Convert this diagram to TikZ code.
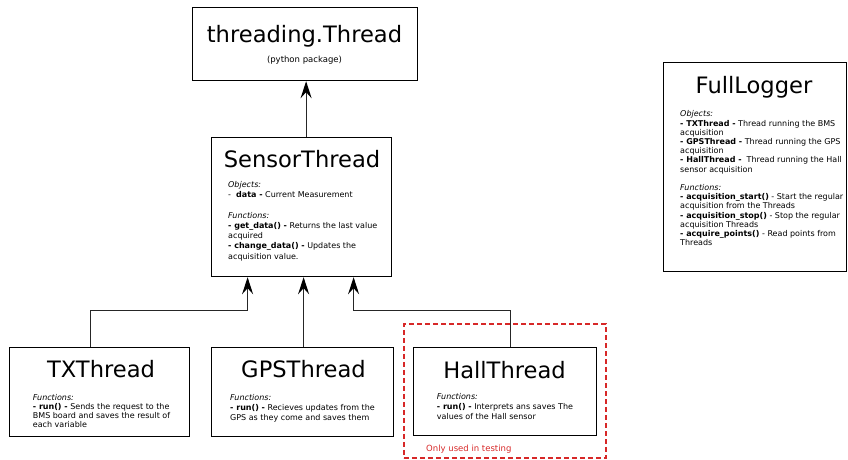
\documentclass[tikz,border=0pt]{standalone}
\usepackage{fontspec}
\setmainfont{DejaVu Sans}
\usepackage{xcolor}
\usetikzlibrary{
  arrows.meta,
  positioning
}
\definecolor{testred}{RGB}{215,40,40}

\begin{document}
\begin{tikzpicture}[
  x=1pt, y=-1pt,
  class-box/.style={
    rectangle,
    draw=black,
    line width=1.2pt,
    anchor=north west,
    inner sep=0pt
  },
  class-name/.style={
    anchor=base,
    inner sep=0pt,
    font=\fontsize{22.6}{26}\selectfont
  },
  class-members/.style={
    anchor=north west,
    align=left,
    inner sep=0pt,
    font=\fontsize{8}{#1}\selectfont
  },
  inherits/.style={
    draw=black!85,
    line width=1.2pt,
    -{Stealth[length=17pt,width=11pt,inset=6pt,color=black]}
  }
]
\useasboundingbox (0,0) rectangle (848,459);

% parent class
\node [class-box, minimum width=225pt, minimum height=73pt] (threading-thread) at (192,7) {};
\node [class-name] (threading-thread-name) at (304.5,42) {threading.Thread};
\node [anchor=base, inner sep=0pt, font=\fontsize{8.5}{10}\selectfont] (threading-thread-note) at (304.5,62) {(python package)};

% sensor base class
\node [class-box, minimum width=180pt, minimum height=139pt] (sensor-thread) at (211,137) {};
\node [class-name] (sensor-thread-name) at (302,167) {SensorThread};
\node [class-members=10.2] (sensor-thread-members) at (228,181.4) {%
\textit{Objects:}\\
-\ \ \textbf{data -} Current Measurement\\[10.2pt]
\textit{Functions:}\\
\textbf{- get\_data() -} Returns the last value\\
acquired\\
\textbf{- change\_data() -} Updates the\\
acquisition value.};

% logger
\node [class-box, minimum width=183pt, minimum height=209pt] (full-logger) at (663,62) {};
\node [class-name] (full-logger-name) at (754,93) {FullLogger};
\node [class-members=9.2] (full-logger-members) at (680,110.6) {%
\textit{Objects:}\\
\textbf{- TXThread -} Thread running the BMS\\
acquisition\\
\textbf{- GPSThread -} Thread running the GPS\\
acquisition\\
\textbf{- HallThread -}\ \ Thread running the Hall\\
sensor acquisition\\[9.2pt]
\textit{Functions:}\\
\textbf{- acquisition\_start()} - Start the regular\\
acquisition from the Threads\\
\textbf{- acquisition\_stop()} - Stop the regular\\
acquisition Threads\\
\textbf{- acquire\_points()} - Read points from\\
Threads};

% acquisition threads
\node [class-box, minimum width=180pt, minimum height=89pt] (tx-thread) at (9,347) {};
\node [class-name] (tx-thread-name) at (101,377) {TXThread};
\node [class-members=9.1] (tx-thread-members) at (32.7,394) {%
\textit{Functions:}\\
\textbf{- run() -} Sends the request to the\\
BMS board and saves the result of\\
each variable};

\node [class-box, minimum width=182pt, minimum height=89pt] (gps-thread) at (211,347) {};
\node [class-name] (gps-thread-name) at (303.5,377) {GPSThread};
\node [class-members=10] (gps-thread-members) at (230,394) {%
\textit{Functions:}\\
\textbf{- run() -} Recieves updates from the\\
GPS as they come and saves them};

\node [class-box, minimum width=183pt, minimum height=88pt] (hall-thread) at (413,347) {};
\node [class-name] (hall-thread-name) at (504.5,378) {HallThread};
\node [class-members=10] (hall-thread-members) at (436.7,393) {%
\textit{Functions:}\\
\textbf{- run() -} Interprets ans saves The\\
values of the Hall sensor};

% testing only
\node [draw=testred, line width=1.6pt, dash pattern=on 5pt off 3pt, rectangle, anchor=north west,
  inner sep=0pt, minimum width=202pt, minimum height=134pt] (testing-only) at (403,323) {};
\node [anchor=base west, inner sep=0pt, text=testred, font=\fontsize{8.5}{10}\selectfont] (testing-only-label) at (426,451) {Only used in testing};

% inheritance
\draw [inherits] ([xshift=4.5pt]sensor-thread.north) -- ([xshift=4.5pt]sensor-thread.north |- threading-thread.south);
\draw [inherits] ([xshift=-9pt]tx-thread.north) |- ([xshift=-54pt,yshift=-33pt]sensor-thread.south) -- ([xshift=-54pt]sensor-thread.south);
\draw [inherits] ([xshift=1pt]gps-thread.north) -- ([xshift=1pt]gps-thread.north |- sensor-thread.south);
\draw [inherits] ([xshift=5.5pt]hall-thread.north) |- ([xshift=52pt,yshift=-33pt]sensor-thread.south) -- ([xshift=52pt]sensor-thread.south);
\end{tikzpicture}
\end{document}
